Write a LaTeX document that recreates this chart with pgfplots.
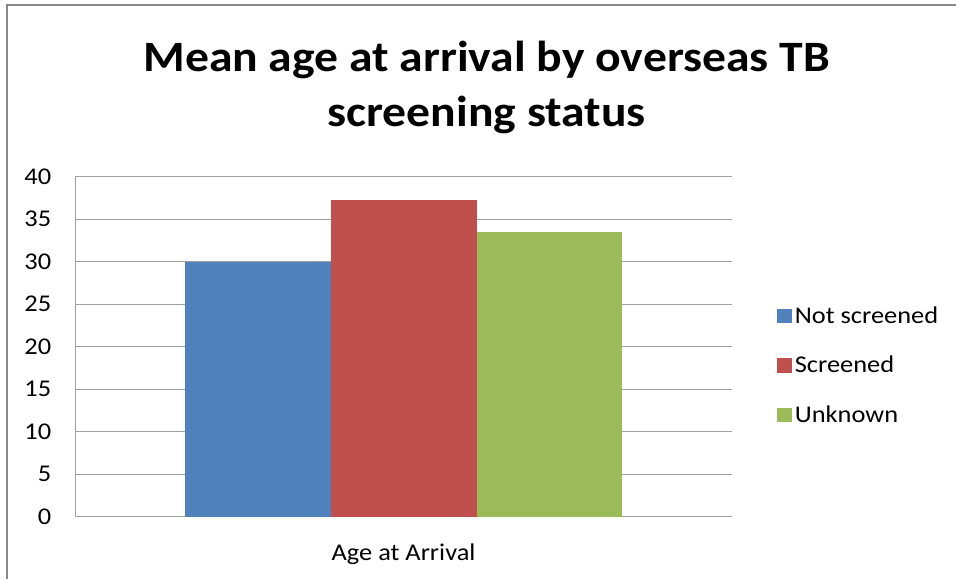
\documentclass[border=0pt]{standalone}
\usepackage{fontspec}
\setmainfont[FakeStretch=1.1]{Carlito}
\usepackage{pgfplots}
\pgfplotsset{compat=1.18}

\definecolor{barblue}{HTML}{4F81BD}
\definecolor{barred}{HTML}{C0504D}
\definecolor{bargreen}{HTML}{9BBB59}
\definecolor{gridgray}{HTML}{A0A0A0}
\definecolor{framegray}{HTML}{888888}

\begin{document}
\begin{tikzpicture}
% page area and chart frame
\useasboundingbox (0,0) rectangle (717pt,434.25pt);
\draw[framegray, line width=1.5pt] (5.5pt,0) -- (5.5pt,430.5pt) -- (717pt,430.5pt);

\begin{axis}[
  at={(56.6pt,46.7pt)}, anchor=south west,
  scale only axis, width=492.15pt, height=255pt,
  ybar=0pt, bar width=0.667,
  xmin=-1.5, xmax=1.5, ymin=0, ymax=40,
  xtick={0}, xticklabels={Age at Arrival},
  ytick={0,5,...,40},
  ymajorgrids, major grid style={gridgray, line width=0.75pt},
  axis x line*=bottom, axis y line*=left,
  axis line style={gridgray, line width=0.75pt},
  major tick length=0pt,
  /pgf/number format/assume math mode=true,
  tick label style={font=\fontsize{18}{21}\selectfont, text=black},
  yticklabel style={anchor=east, inner sep=0pt, xshift=-18pt},
  xticklabel style={anchor=base, inner sep=0pt, yshift=-32.5pt},
  legend style={at={(1,0.445)}, anchor=west, xshift=31pt, draw=none,
    font=\fontsize{18}{21}\selectfont, row sep=19pt,
    cells={anchor=west}},
  legend image code/.code={\fill[#1] (0pt,-5.4pt) rectangle (11.2pt,5.4pt);},
]
\addplot[fill=barblue, draw=none] coordinates {(0,30.0)};
\addplot[fill=barred, draw=none] coordinates {(0,37.3)};
\addplot[fill=bargreen, draw=none] coordinates {(0,33.5)};
\legend{Not screened, Screened, Unknown}
\end{axis}

% two-line chart title
\node[font=\bfseries\fontsize{32.5}{40}\selectfont, anchor=base]
  at (365pt,380.5pt) {Mean age at arrival by overseas TB};
\node[font=\bfseries\fontsize{32.5}{40}\selectfont, anchor=base]
  at (365pt,339.2pt) {screening status};
\end{tikzpicture}
\end{document}
